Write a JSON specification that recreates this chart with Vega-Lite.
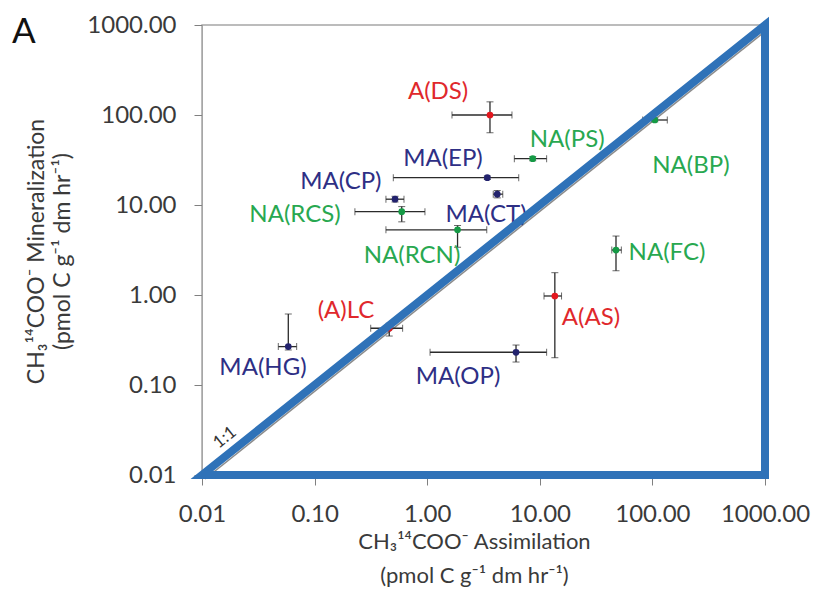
{
  "$schema": "https://vega.github.io/schema/vega-lite/v6.json",
  "width": 563,
  "height": 450,
  "autosize": {"type": "none"},
  "padding": {"left": 202, "top": 25, "right": 50, "bottom": 115},
  "background": "white",
  "config": {"view": {"stroke": "#a6a6a6", "strokeWidth": 1.5}},
  "title": {"text": "A", "anchor": "start", "frame": "group", "orient": "top", "font": "Lato", "fontSize": 35, "fontWeight": "normal", "color": "#111111", "dx": -190, "dy": 69, "offset": 0, "baseline": "alphabetic"},
  "datasets": {
    "pts": [
      {"site": "A(DS)", "grp": "A", "x": 3.61, "y": 100, "xlo": 1.66, "xhi": 5.66, "ylo": 63.5, "yhi": 140, "lx": 1.25, "ly": 180},
      {"site": "NA(PS)", "grp": "NA", "x": 8.65, "y": 32.7, "xlo": 5.94, "xhi": 11.5, "ylo": 31, "yhi": 34.5, "lx": 17.5, "ly": 52.7},
      {"site": "NA(BP)", "grp": "NA", "x": 105, "y": 88, "xlo": 82, "xhi": 135.6, "ylo": 84, "yhi": 92, "lx": 220, "ly": 27.1},
      {"site": "MA(EP)", "grp": "MA", "x": 3.42, "y": 20.1, "xlo": 0.5, "xhi": 6.5, "ylo": 19.2, "yhi": 21, "lx": 1.38, "ly": 32.4},
      {"site": "MA(CP)", "grp": "MA", "x": 0.518, "y": 11.6, "xlo": 0.43, "xhi": 0.622, "ylo": 10.8, "yhi": 12.5, "lx": 0.171, "ly": 18.0},
      {"site": "MA(CT)", "grp": "MA", "x": 4.19, "y": 13.2, "xlo": 3.86, "xhi": 4.69, "ylo": 12.0, "yhi": 14.5, "lx": 3.33, "ly": 7.74},
      {"site": "NA(RCS)", "grp": "NA", "x": 0.594, "y": 8.43, "xlo": 0.228, "xhi": 0.955, "ylo": 6.5, "yhi": 9.6, "lx": 0.067, "ly": 7.74},
      {"site": "NA(RCN)", "grp": "NA", "x": 1.86, "y": 5.3, "xlo": 0.43, "xhi": 3.38, "ylo": 3.39, "yhi": 5.9, "lx": 0.733, "ly": 2.71},
      {"site": "NA(FC)", "grp": "NA", "x": 47.5, "y": 3.16, "xlo": 43.6, "xhi": 53, "ylo": 1.86, "yhi": 4.52, "lx": 134.8, "ly": 2.93},
      {"site": "A(AS)", "grp": "A", "x": 13.6, "y": 0.975, "xlo": 10.9, "xhi": 15.6, "ylo": 0.201, "yhi": 1.77, "lx": 28.5, "ly": 0.555},
      {"site": "(A)LC", "grp": "A", "x": 0.46, "y": 0.427, "xlo": 0.315, "xhi": 0.605, "ylo": 0.35, "yhi": 0.485, "lx": 0.19, "ly": 0.664},
      {"site": "MA(HG)", "grp": "MA", "x": 0.0584, "y": 0.267, "xlo": 0.0476, "xhi": 0.0693, "ylo": 0.245, "yhi": 0.615, "lx": 0.0348, "ly": 0.154},
      {"site": "MA(OP)", "grp": "MA", "x": 6.15, "y": 0.231, "xlo": 1.06, "xhi": 11.5, "ylo": 0.18, "yhi": 0.278, "lx": 1.88, "ly": 0.123}
    ],
    "tri": [
      {"o": 1, "x": 0.01, "y": 0.01},
      {"o": 2, "x": 1000, "y": 1000},
      {"o": 3, "x": 1000, "y": 0.01},
      {"o": 4, "x": 0.01, "y": 0.01},
      {"o": 5, "x": 1000, "y": 1000}
    ],
    "one": [
      {"o": 1, "x": 0.01, "y": 0.01},
      {"o": 2, "x": 1000, "y": 1000}
    ],
    "lbl": [
      {"x": 0.016, "y": 0.026, "t": "1:1"}
    ]
  },
  "layer": [
    {
      "data": {"name": "one"},
      "mark": {"type": "line", "color": "#8c8c8c", "strokeWidth": 1.5, "xOffset": 3, "yOffset": 4, "clip": false},
      "encoding": {
        "x": {"field": "x", "type": "quantitative", "scale": {"type": "log", "domain": [0.01, 1000]},
          "axis": {"values": [0.01, 0.1, 1, 10, 100, 1000], "format": ".2f", "grid": false, "domain": false, "labelOverlap": false, "labelFlush": false, "tickSize": 10, "tickColor": "#808080", "labelPadding": 17, "labelFont": "Lato", "labelFontSize": 24, "labelColor": "#3a3a3a",
            "title": ["CH₃¹⁴COO⁻ Assimilation", "(pmol C g⁻¹ dm hr⁻¹)"], "titleFont": "Lato", "titleFontSize": 22, "titleFontWeight": "normal", "titleColor": "#3a3a3a", "titleLineHeight": 34, "titleX": 272, "titleY": 56, "titleBaseline": "top", "titleAlign": "center"}},
        "y": {"field": "y", "type": "quantitative", "scale": {"type": "log", "domain": [0.01, 1000]},
          "axis": {"values": [0.01, 0.1, 1, 10, 100, 1000], "format": ".2f", "grid": false, "domainColor": "#a6a6a6", "labelOverlap": false, "labelFlush": false, "tickSize": 8, "tickColor": "#808080", "labelPadding": 18, "labelFont": "Lato", "labelFontSize": 24, "labelColor": "#3a3a3a",
            "title": ["CH₃¹⁴COO⁻ Mineralization", "(pmol C g⁻¹ dm hr⁻¹)"], "titleFont": "Lato", "titleFontSize": 23, "titleFontWeight": "normal", "titleColor": "#3a3a3a", "titleLineHeight": 26, "titleAngle": -90, "titleX": -177, "titleY": 226, "titleBaseline": "top", "titleAlign": "center"}},
        "order": {"field": "o", "type": "quantitative"}
      }
    },
    {
      "data": {"name": "lbl"},
      "mark": {"type": "text", "font": "Lato", "fontSize": 17, "color": "#333333", "angle": 321, "align": "center", "baseline": "middle"},
      "encoding": {
        "x": {"field": "x", "type": "quantitative", "axis": null},
        "y": {"field": "y", "type": "quantitative", "axis": null},
        "text": {"field": "t"}
      }
    },
    {
      "data": {"name": "pts"},
      "mark": {"type": "errorbar", "ticks": {"size": 7}, "rule": {"strokeWidth": 1.3}, "color": "#2b2b2b", "clip": false},
      "encoding": {
        "x": {"field": "xlo", "type": "quantitative", "axis": null},
        "x2": {"field": "xhi"},
        "y": {"field": "y", "type": "quantitative", "axis": null}
      }
    },
    {
      "data": {"name": "pts"},
      "mark": {"type": "errorbar", "ticks": {"size": 7}, "rule": {"strokeWidth": 1.3}, "color": "#2b2b2b", "clip": false},
      "encoding": {
        "y": {"field": "ylo", "type": "quantitative", "axis": null},
        "y2": {"field": "yhi"},
        "x": {"field": "x", "type": "quantitative", "axis": null}
      }
    },
    {
      "data": {"name": "pts"},
      "mark": {"type": "point", "shape": "circle", "filled": true, "opacity": 1, "size": 45},
      "encoding": {
        "x": {"field": "x", "type": "quantitative", "axis": null},
        "y": {"field": "y", "type": "quantitative", "axis": null},
        "color": {"field": "grp", "type": "nominal", "scale": {"domain": ["A", "NA", "MA"], "range": ["#e3171e", "#159a45", "#23236e"]}, "legend": null}
      }
    },
    {
      "data": {"name": "pts"},
      "mark": {"type": "text", "font": "Lato", "fontSize": 24, "align": "center", "baseline": "middle"},
      "encoding": {
        "x": {"field": "lx", "type": "quantitative", "axis": null},
        "y": {"field": "ly", "type": "quantitative", "axis": null},
        "text": {"field": "site"},
        "color": {"field": "grp", "type": "nominal", "scale": {"domain": ["A", "NA", "MA"], "range": ["#e0282c", "#28a850", "#2e2f85"]}, "legend": null}
      }
    },
    {
      "data": {"name": "tri"},
      "mark": {"type": "line", "color": "#2f72b8", "strokeWidth": 8, "strokeJoin": "miter", "strokeCap": "butt", "clip": false},
      "encoding": {
        "x": {"field": "x", "type": "quantitative", "axis": null},
        "y": {"field": "y", "type": "quantitative", "axis": null},
        "order": {"field": "o", "type": "quantitative"}
      }
    }
  ],
  "resolve": {"scale": {"color": "independent"}, "axis": {"x": "independent", "y": "independent"}}
}
